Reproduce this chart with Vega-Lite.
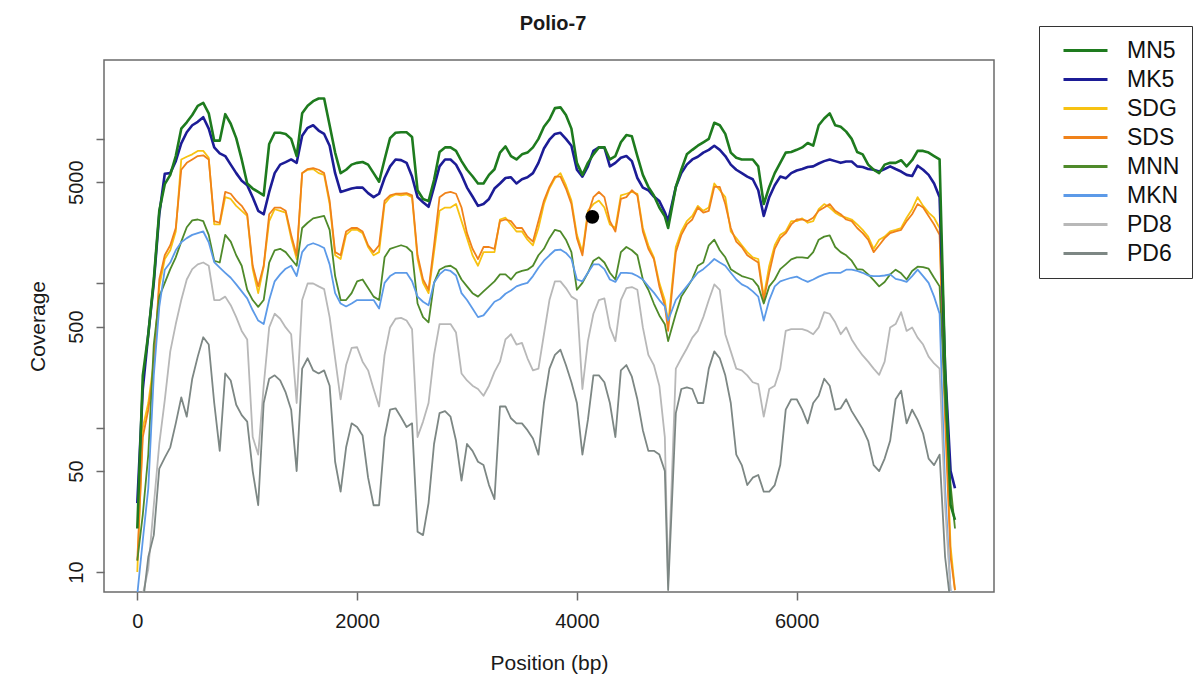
{
  "$schema": "https://vega.github.io/schema/vega-lite/v6.json",
  "width": 890,
  "height": 532,
  "autosize": {"type": "none"},
  "padding": {"left": 104, "top": 60, "right": 209, "bottom": 89},
  "background": "white",
  "config": {
    "font": "Liberation Sans",
    "view": {"stroke": "#6b6b6b", "strokeWidth": 1.5}
  },
  "title": {
    "text": "Polio-7",
    "font": "Liberation Sans",
    "fontSize": 20,
    "fontWeight": "bold",
    "color": "#1a1a1a",
    "anchor": "middle",
    "offset": -8,
    "dx": 4
  },
  "data": {
    "values": [
      {"pos": 0, "MN5": 20, "MK5": 30, "SDG": 10, "SDS": 12, "MNN": 12, "MKN": 7, "PD8": 6, "PD6": 5},
      {"pos": 50, "MN5": 230, "MK5": 185, "SDG": 100, "SDS": 86, "MNN": 25, "MKN": 16.6, "PD8": 7, "PD6": 6},
      {"pos": 100, "MN5": 443, "MK5": 443, "SDG": 148, "SDS": 133, "MNN": 65, "MKN": 38, "PD8": 10.5, "PD6": 12.7},
      {"pos": 150, "MN5": 1060, "MK5": 1005, "SDG": 286, "SDS": 256, "MNN": 376, "MKN": 230, "PD8": 29, "PD6": 18},
      {"pos": 200, "MN5": 3170, "MK5": 3000, "SDG": 950, "SDS": 1060, "MNN": 807, "MKN": 685, "PD8": 77, "PD6": 52},
      {"pos": 250, "MN5": 4850, "MK5": 5720, "SDG": 1470, "SDS": 1560, "MNN": 1005, "MKN": 1240, "PD8": 155, "PD6": 62},
      {"pos": 300, "MN5": 5620, "MK5": 5780, "SDG": 1690, "SDS": 1830, "MNN": 1250, "MKN": 1390, "PD8": 337, "PD6": 73},
      {"pos": 350, "MN5": 7590, "MK5": 7000, "SDG": 2280, "SDS": 2410, "MNN": 1510, "MKN": 1690, "PD8": 521, "PD6": 107},
      {"pos": 400, "MN5": 11750, "MK5": 9300, "SDG": 7190, "SDS": 6100, "MNN": 1940, "MKN": 1920, "PD8": 764, "PD6": 162},
      {"pos": 450, "MN5": 13000, "MK5": 11100, "SDG": 7500, "SDS": 6810, "MNN": 2440, "MKN": 2050, "PD8": 1060, "PD6": 119},
      {"pos": 500, "MN5": 14600, "MK5": 12400, "SDG": 7800, "SDS": 7190, "MNN": 2720, "MKN": 2160, "PD8": 1250, "PD6": 218},
      {"pos": 550, "MN5": 16900, "MK5": 13100, "SDG": 8240, "SDS": 7590, "MNN": 2760, "MKN": 2220, "PD8": 1350, "PD6": 310},
      {"pos": 600, "MN5": 17700, "MK5": 14100, "SDG": 8240, "SDS": 7680, "MNN": 2690, "MKN": 2280, "PD8": 1390, "PD6": 422},
      {"pos": 650, "MN5": 15000, "MK5": 11750, "SDG": 7390, "SDS": 7190, "MNN": 2160, "MKN": 1920, "PD8": 1320, "PD6": 376},
      {"pos": 700, "MN5": 9700, "MK5": 8710, "SDG": 2550, "SDS": 2690, "MNN": 1430, "MKN": 1400, "PD8": 764, "PD6": 148},
      {"pos": 750, "MN5": 9700, "MK5": 7930, "SDG": 2550, "SDS": 2620, "MNN": 1390, "MKN": 1280, "PD8": 764, "PD6": 69},
      {"pos": 800, "MN5": 14800, "MK5": 7590, "SDG": 3940, "SDS": 4280, "MNN": 2160, "MKN": 1180, "PD8": 807, "PD6": 237},
      {"pos": 850, "MN5": 12700, "MK5": 6620, "SDG": 3830, "SDS": 4160, "MNN": 1940, "MKN": 1090, "PD8": 704, "PD6": 212},
      {"pos": 900, "MN5": 10100, "MK5": 5780, "SDG": 3430, "SDS": 3730, "MNN": 1560, "MKN": 980, "PD8": 582, "PD6": 144},
      {"pos": 950, "MN5": 7190, "MK5": 5120, "SDG": 3170, "SDS": 3430, "MNN": 1320, "MKN": 877, "PD8": 467, "PD6": 122},
      {"pos": 1000, "MN5": 4900, "MK5": 4770, "SDG": 2920, "SDS": 3000, "MNN": 900, "MKN": 785, "PD8": 408, "PD6": 110},
      {"pos": 1050, "MN5": 4520, "MK5": 3940, "SDG": 1250, "SDS": 1320, "MNN": 764, "MKN": 649, "PD8": 86, "PD6": 50},
      {"pos": 1100, "MN5": 4280, "MK5": 3170, "SDG": 853, "SDS": 950, "MNN": 685, "MKN": 551, "PD8": 65, "PD6": 29},
      {"pos": 1150, "MN5": 4050, "MK5": 3000, "SDG": 1300, "SDS": 1320, "MNN": 764, "MKN": 521, "PD8": 195, "PD6": 148},
      {"pos": 1200, "MN5": 9200, "MK5": 4280, "SDG": 2690, "SDS": 3000, "MNN": 1390, "MKN": 764, "PD8": 494, "PD6": 218},
      {"pos": 1250, "MN5": 11000, "MK5": 5780, "SDG": 3250, "SDS": 3340, "MNN": 1690, "MKN": 1030, "PD8": 614, "PD6": 230},
      {"pos": 1300, "MN5": 11000, "MK5": 6620, "SDG": 3170, "SDS": 3340, "MNN": 1730, "MKN": 1150, "PD8": 567, "PD6": 212},
      {"pos": 1350, "MN5": 10800, "MK5": 6890, "SDG": 3080, "SDS": 3170, "MNN": 1640, "MKN": 1260, "PD8": 494, "PD6": 175},
      {"pos": 1400, "MN5": 9980, "MK5": 7190, "SDG": 2050, "SDS": 2160, "MNN": 1470, "MKN": 1320, "PD8": 443, "PD6": 133},
      {"pos": 1450, "MN5": 7590, "MK5": 6810, "SDG": 1470, "SDS": 1560, "MNN": 1320, "MKN": 1120, "PD8": 148, "PD6": 50},
      {"pos": 1500, "MN5": 15000, "MK5": 10500, "SDG": 5780, "SDS": 5780, "MNN": 2410, "MKN": 1640, "PD8": 764, "PD6": 256},
      {"pos": 1550, "MN5": 16900, "MK5": 11900, "SDG": 6100, "SDS": 6170, "MNN": 2620, "MKN": 1830, "PD8": 995, "PD6": 302},
      {"pos": 1600, "MN5": 18200, "MK5": 12400, "SDG": 6170, "SDS": 6270, "MNN": 2810, "MKN": 1890, "PD8": 995, "PD6": 249},
      {"pos": 1650, "MN5": 19000, "MK5": 11400, "SDG": 5780, "SDS": 6100, "MNN": 2870, "MKN": 1830, "PD8": 950, "PD6": 237},
      {"pos": 1700, "MN5": 19000, "MK5": 10800, "SDG": 5620, "SDS": 5780, "MNN": 2920, "MKN": 1750, "PD8": 910, "PD6": 249},
      {"pos": 1750, "MN5": 12400, "MK5": 8950, "SDG": 3530, "SDS": 3730, "MNN": 2340, "MKN": 1350, "PD8": 582, "PD6": 195},
      {"pos": 1800, "MN5": 8020, "MK5": 5780, "SDG": 1560, "SDS": 1640, "MNN": 1120, "MKN": 853, "PD8": 302, "PD6": 58},
      {"pos": 1850, "MN5": 5780, "MK5": 4280, "SDG": 1470, "SDS": 1560, "MNN": 764, "MKN": 723, "PD8": 157, "PD6": 36},
      {"pos": 1900, "MN5": 6100, "MK5": 4400, "SDG": 2160, "SDS": 2280, "MNN": 764, "MKN": 690, "PD8": 271, "PD6": 73},
      {"pos": 1950, "MN5": 6620, "MK5": 4520, "SDG": 2340, "SDS": 2410, "MNN": 853, "MKN": 723, "PD8": 356, "PD6": 107},
      {"pos": 2000, "MN5": 6810, "MK5": 4590, "SDG": 2340, "SDS": 2410, "MNN": 1030, "MKN": 764, "PD8": 360, "PD6": 101},
      {"pos": 2050, "MN5": 6900, "MK5": 4590, "SDG": 2220, "SDS": 2280, "MNN": 1060, "MKN": 764, "PD8": 286, "PD6": 88},
      {"pos": 2100, "MN5": 6620, "MK5": 4200, "SDG": 1780, "SDS": 1830, "MNN": 925, "MKN": 764, "PD8": 249, "PD6": 45},
      {"pos": 2150, "MN5": 5780, "MK5": 3940, "SDG": 1560, "SDS": 1640, "MNN": 807, "MKN": 764, "PD8": 185, "PD6": 29},
      {"pos": 2200, "MN5": 5040, "MK5": 4160, "SDG": 1640, "SDS": 1830, "MNN": 764, "MKN": 667, "PD8": 140, "PD6": 29},
      {"pos": 2250, "MN5": 7190, "MK5": 5350, "SDG": 3530, "SDS": 3730, "MNN": 1510, "MKN": 1005, "PD8": 319, "PD6": 86},
      {"pos": 2300, "MN5": 10100, "MK5": 6440, "SDG": 3940, "SDS": 4050, "MNN": 1730, "MKN": 1120, "PD8": 494, "PD6": 133},
      {"pos": 2350, "MN5": 11000, "MK5": 7190, "SDG": 4120, "SDS": 4160, "MNN": 1780, "MKN": 1180, "PD8": 567, "PD6": 136},
      {"pos": 2400, "MN5": 11100, "MK5": 7110, "SDG": 4050, "SDS": 4160, "MNN": 1830, "MKN": 1180, "PD8": 575, "PD6": 118},
      {"pos": 2450, "MN5": 11100, "MK5": 6810, "SDG": 4120, "SDS": 4200, "MNN": 1780, "MKN": 1180, "PD8": 551, "PD6": 101},
      {"pos": 2500, "MN5": 10300, "MK5": 5470, "SDG": 3940, "SDS": 4050, "MNN": 1640, "MKN": 1030, "PD8": 480, "PD6": 107},
      {"pos": 2550, "MN5": 4400, "MK5": 3940, "SDG": 1470, "SDS": 1560, "MNN": 723, "MKN": 807, "PD8": 86, "PD6": 19},
      {"pos": 2600, "MN5": 3830, "MK5": 3630, "SDG": 1005, "SDS": 1060, "MNN": 582, "MKN": 744, "PD8": 110, "PD6": 18},
      {"pos": 2650, "MN5": 3700, "MK5": 3380, "SDG": 853, "SDS": 900, "MNN": 536, "MKN": 704, "PD8": 148, "PD6": 30},
      {"pos": 2700, "MN5": 5180, "MK5": 4640, "SDG": 1640, "SDS": 1830, "MNN": 1005, "MKN": 1005, "PD8": 319, "PD6": 77},
      {"pos": 2750, "MN5": 8100, "MK5": 6440, "SDG": 3170, "SDS": 3940, "MNN": 1240, "MKN": 1150, "PD8": 521, "PD6": 126},
      {"pos": 2800, "MN5": 8710, "MK5": 7190, "SDG": 3340, "SDS": 4200, "MNN": 1300, "MKN": 1240, "PD8": 521, "PD6": 130},
      {"pos": 2850, "MN5": 8710, "MK5": 7190, "SDG": 3340, "SDS": 4280, "MNN": 1320, "MKN": 1215, "PD8": 521, "PD6": 119},
      {"pos": 2900, "MN5": 8240, "MK5": 6620, "SDG": 3530, "SDS": 4160, "MNN": 1250, "MKN": 1130, "PD8": 455, "PD6": 81},
      {"pos": 2950, "MN5": 7000, "MK5": 5620, "SDG": 2690, "SDS": 3340, "MNN": 1060, "MKN": 853, "PD8": 237, "PD6": 43},
      {"pos": 3000, "MN5": 6100, "MK5": 4590, "SDG": 2050, "SDS": 2220, "MNN": 950, "MKN": 764, "PD8": 212, "PD6": 77},
      {"pos": 3050, "MN5": 5500, "MK5": 3980, "SDG": 1560, "SDS": 1730, "MNN": 853, "MKN": 667, "PD8": 195, "PD6": 69},
      {"pos": 3100, "MN5": 4900, "MK5": 3430, "SDG": 1320, "SDS": 1470, "MNN": 807, "MKN": 582, "PD8": 185, "PD6": 58},
      {"pos": 3150, "MN5": 4900, "MK5": 3530, "SDG": 1640, "SDS": 1780, "MNN": 877, "MKN": 598, "PD8": 166, "PD6": 55},
      {"pos": 3200, "MN5": 5620, "MK5": 3830, "SDG": 1640, "SDS": 1780, "MNN": 950, "MKN": 667, "PD8": 195, "PD6": 40},
      {"pos": 3250, "MN5": 6150, "MK5": 4520, "SDG": 1640, "SDS": 1730, "MNN": 1030, "MKN": 744, "PD8": 243, "PD6": 32},
      {"pos": 3300, "MN5": 8020, "MK5": 4900, "SDG": 2760, "SDS": 2690, "MNN": 1150, "MKN": 777, "PD8": 286, "PD6": 140},
      {"pos": 3350, "MN5": 8850, "MK5": 5350, "SDG": 2840, "SDS": 2760, "MNN": 1150, "MKN": 845, "PD8": 408, "PD6": 140},
      {"pos": 3400, "MN5": 7590, "MK5": 5410, "SDG": 2550, "SDS": 2690, "MNN": 1060, "MKN": 890, "PD8": 443, "PD6": 116},
      {"pos": 3450, "MN5": 7190, "MK5": 4900, "SDG": 2280, "SDS": 2410, "MNN": 1180, "MKN": 950, "PD8": 376, "PD6": 107},
      {"pos": 3500, "MN5": 7800, "MK5": 5240, "SDG": 2280, "SDS": 2410, "MNN": 1215, "MKN": 980, "PD8": 386, "PD6": 107},
      {"pos": 3550, "MN5": 8020, "MK5": 5410, "SDG": 2000, "SDS": 2100, "MNN": 1240, "MKN": 1005, "PD8": 302, "PD6": 96},
      {"pos": 3600, "MN5": 8710, "MK5": 5780, "SDG": 1830, "SDS": 1940, "MNN": 1320, "MKN": 1120, "PD8": 249, "PD6": 84},
      {"pos": 3650, "MN5": 9980, "MK5": 6810, "SDG": 2410, "SDS": 2690, "MNN": 1560, "MKN": 1280, "PD8": 256, "PD6": 65},
      {"pos": 3700, "MN5": 12100, "MK5": 8560, "SDG": 3530, "SDS": 3730, "MNN": 1730, "MKN": 1430, "PD8": 443, "PD6": 148},
      {"pos": 3750, "MN5": 13600, "MK5": 9850, "SDG": 4520, "SDS": 4640, "MNN": 2050, "MKN": 1560, "PD8": 764, "PD6": 256},
      {"pos": 3800, "MN5": 16300, "MK5": 10800, "SDG": 5320, "SDS": 5470, "MNN": 2340, "MKN": 1690, "PD8": 1030, "PD6": 319},
      {"pos": 3850, "MN5": 16500, "MK5": 11000, "SDG": 5780, "SDS": 5470, "MNN": 2280, "MKN": 1710, "PD8": 1030, "PD6": 346},
      {"pos": 3900, "MN5": 14600, "MK5": 9980, "SDG": 4770, "SDS": 4520, "MNN": 2000, "MKN": 1620, "PD8": 925, "PD6": 271},
      {"pos": 3950, "MN5": 11750, "MK5": 8950, "SDG": 3730, "SDS": 3530, "MNN": 1640, "MKN": 1470, "PD8": 807, "PD6": 206},
      {"pos": 4000, "MN5": 6810, "MK5": 6100, "SDG": 2160, "SDS": 2050, "MNN": 900, "MKN": 1060, "PD8": 764, "PD6": 148},
      {"pos": 4050, "MN5": 5620, "MK5": 5470, "SDG": 1640, "SDS": 1560, "MNN": 1005, "MKN": 1030, "PD8": 185, "PD6": 65},
      {"pos": 4100, "MN5": 6810, "MK5": 6440, "SDG": 3170, "SDS": 3000, "MNN": 1180, "MKN": 1180, "PD8": 397, "PD6": 113},
      {"pos": 4150, "MN5": 7800, "MK5": 8240, "SDG": 3530, "SDS": 3940, "MNN": 1430, "MKN": 1350, "PD8": 614, "PD6": 230},
      {"pos": 4200, "MN5": 8710, "MK5": 8710, "SDG": 3730, "SDS": 4280, "MNN": 1510, "MKN": 1350, "PD8": 764, "PD6": 230},
      {"pos": 4250, "MN5": 8710, "MK5": 8710, "SDG": 3340, "SDS": 3940, "MNN": 1390, "MKN": 1250, "PD8": 785, "PD6": 206},
      {"pos": 4300, "MN5": 7190, "MK5": 6440, "SDG": 2550, "SDS": 2690, "MNN": 1180, "MKN": 1060, "PD8": 494, "PD6": 148},
      {"pos": 4350, "MN5": 7590, "MK5": 6810, "SDG": 2410, "SDS": 2280, "MNN": 1060, "MKN": 1020, "PD8": 397, "PD6": 86},
      {"pos": 4400, "MN5": 9450, "MK5": 7390, "SDG": 4050, "SDS": 3830, "MNN": 1640, "MKN": 1180, "PD8": 764, "PD6": 249},
      {"pos": 4450, "MN5": 10600, "MK5": 7590, "SDG": 4160, "SDS": 3940, "MNN": 1780, "MKN": 1180, "PD8": 925, "PD6": 271},
      {"pos": 4500, "MN5": 10400, "MK5": 7000, "SDG": 4280, "SDS": 4400, "MNN": 1690, "MKN": 1170, "PD8": 940, "PD6": 225},
      {"pos": 4550, "MN5": 7590, "MK5": 5350, "SDG": 4160, "SDS": 4050, "MNN": 1560, "MKN": 1120, "PD8": 900, "PD6": 157},
      {"pos": 4600, "MN5": 5620, "MK5": 4590, "SDG": 2410, "SDS": 2280, "MNN": 1060, "MKN": 1060, "PD8": 494, "PD6": 96},
      {"pos": 4650, "MN5": 4640, "MK5": 4400, "SDG": 1830, "SDS": 1730, "MNN": 900, "MKN": 950, "PD8": 319, "PD6": 69},
      {"pos": 4700, "MN5": 4050, "MK5": 3980, "SDG": 1510, "SDS": 1470, "MNN": 723, "MKN": 860, "PD8": 271, "PD6": 69},
      {"pos": 4750, "MN5": 3340, "MK5": 3700, "SDG": 1005, "SDS": 950, "MNN": 598, "MKN": 764, "PD8": 195, "PD6": 65},
      {"pos": 4800, "MN5": 2900, "MK5": 3100, "SDG": 760, "SDS": 700, "MNN": 520, "MKN": 690, "PD8": 86, "PD6": 50},
      {"pos": 4830, "MN5": 2410, "MK5": 2690, "SDG": 521, "SDS": 467, "MNN": 397, "MKN": 551, "PD8": 8.6, "PD6": 7.5},
      {"pos": 4900, "MN5": 4640, "MK5": 4640, "SDG": 1780, "SDS": 1640, "MNN": 614, "MKN": 764, "PD8": 256, "PD6": 126},
      {"pos": 4950, "MN5": 6100, "MK5": 5780, "SDG": 2280, "SDS": 2160, "MNN": 807, "MKN": 853, "PD8": 302, "PD6": 185},
      {"pos": 5000, "MN5": 7800, "MK5": 6620, "SDG": 2690, "SDS": 2550, "MNN": 925, "MKN": 950, "PD8": 353, "PD6": 190},
      {"pos": 5050, "MN5": 8380, "MK5": 7190, "SDG": 2920, "SDS": 2760, "MNN": 1070, "MKN": 1060, "PD8": 420, "PD6": 185},
      {"pos": 5100, "MN5": 8950, "MK5": 7510, "SDG": 3430, "SDS": 3340, "MNN": 1320, "MKN": 1180, "PD8": 467, "PD6": 148},
      {"pos": 5150, "MN5": 9450, "MK5": 8020, "SDG": 3170, "SDS": 3080, "MNN": 1390, "MKN": 1250, "PD8": 582, "PD6": 148},
      {"pos": 5200, "MN5": 9980, "MK5": 8380, "SDG": 3340, "SDS": 3170, "MNN": 1830, "MKN": 1350, "PD8": 764, "PD6": 256},
      {"pos": 5250, "MN5": 12900, "MK5": 8950, "SDG": 4900, "SDS": 4640, "MNN": 2000, "MKN": 1470, "PD8": 980, "PD6": 337},
      {"pos": 5300, "MN5": 12400, "MK5": 8380, "SDG": 4400, "SDS": 4640, "MNN": 1690, "MKN": 1390, "PD8": 900, "PD6": 302},
      {"pos": 5350, "MN5": 10800, "MK5": 7590, "SDG": 3940, "SDS": 3530, "MNN": 1510, "MKN": 1320, "PD8": 443, "PD6": 230},
      {"pos": 5400, "MN5": 8020, "MK5": 6620, "SDG": 2280, "SDS": 2410, "MNN": 1250, "MKN": 1180, "PD8": 337, "PD6": 148},
      {"pos": 5450, "MN5": 7390, "MK5": 6100, "SDG": 2050, "SDS": 1940, "MNN": 1180, "MKN": 1060, "PD8": 256, "PD6": 65},
      {"pos": 5500, "MN5": 7190, "MK5": 5780, "SDG": 1830, "SDS": 1780, "MNN": 1120, "MKN": 980, "PD8": 249, "PD6": 55},
      {"pos": 5550, "MN5": 7190, "MK5": 5470, "SDG": 1640, "SDS": 1560, "MNN": 1090, "MKN": 940, "PD8": 230, "PD6": 40},
      {"pos": 5600, "MN5": 7190, "MK5": 5240, "SDG": 1510, "SDS": 1470, "MNN": 1060, "MKN": 877, "PD8": 206, "PD6": 45},
      {"pos": 5650, "MN5": 6440, "MK5": 4400, "SDG": 1470, "SDS": 1390, "MNN": 950, "MKN": 807, "PD8": 200, "PD6": 47},
      {"pos": 5700, "MN5": 3530, "MK5": 2920, "SDG": 807, "SDS": 764, "MNN": 723, "MKN": 551, "PD8": 119, "PD6": 36},
      {"pos": 5750, "MN5": 4640, "MK5": 3940, "SDG": 1320, "SDS": 1180, "MNN": 950, "MKN": 764, "PD8": 185, "PD6": 36},
      {"pos": 5800, "MN5": 5780, "MK5": 4770, "SDG": 1830, "SDS": 1730, "MNN": 1060, "MKN": 950, "PD8": 195, "PD6": 40},
      {"pos": 5850, "MN5": 6810, "MK5": 5470, "SDG": 2160, "SDS": 2050, "MNN": 1250, "MKN": 1030, "PD8": 256, "PD6": 55},
      {"pos": 5900, "MN5": 8020, "MK5": 5320, "SDG": 2280, "SDS": 2220, "MNN": 1350, "MKN": 1060, "PD8": 467, "PD6": 133},
      {"pos": 5950, "MN5": 8100, "MK5": 5780, "SDG": 2690, "SDS": 2550, "MNN": 1460, "MKN": 1090, "PD8": 480, "PD6": 157},
      {"pos": 6000, "MN5": 8380, "MK5": 6030, "SDG": 2690, "SDS": 2760, "MNN": 1510, "MKN": 1110, "PD8": 480, "PD6": 157},
      {"pos": 6050, "MN5": 8710, "MK5": 6170, "SDG": 2810, "SDS": 2760, "MNN": 1510, "MKN": 1060, "PD8": 480, "PD6": 133},
      {"pos": 6100, "MN5": 9350, "MK5": 6370, "SDG": 2620, "SDS": 2690, "MNN": 1490, "MKN": 1020, "PD8": 467, "PD6": 107},
      {"pos": 6150, "MN5": 8950, "MK5": 6440, "SDG": 2690, "SDS": 2840, "MNN": 1640, "MKN": 1060, "PD8": 443, "PD6": 148},
      {"pos": 6200, "MN5": 12400, "MK5": 6740, "SDG": 3250, "SDS": 3170, "MNN": 2000, "MKN": 1110, "PD8": 494, "PD6": 166},
      {"pos": 6250, "MN5": 13800, "MK5": 7000, "SDG": 3530, "SDS": 3340, "MNN": 2100, "MKN": 1150, "PD8": 630, "PD6": 218},
      {"pos": 6300, "MN5": 15000, "MK5": 7190, "SDG": 3340, "SDS": 3530, "MNN": 2140, "MKN": 1180, "PD8": 614, "PD6": 195},
      {"pos": 6350, "MN5": 12400, "MK5": 7000, "SDG": 3080, "SDS": 3170, "MNN": 1780, "MKN": 1180, "PD8": 536, "PD6": 133},
      {"pos": 6400, "MN5": 12100, "MK5": 6810, "SDG": 2920, "SDS": 3000, "MNN": 1640, "MKN": 1180, "PD8": 443, "PD6": 136},
      {"pos": 6450, "MN5": 11200, "MK5": 6960, "SDG": 2840, "SDS": 2760, "MNN": 1560, "MKN": 1240, "PD8": 494, "PD6": 157},
      {"pos": 6500, "MN5": 9980, "MK5": 6960, "SDG": 2760, "SDS": 2690, "MNN": 1430, "MKN": 1240, "PD8": 408, "PD6": 130},
      {"pos": 6550, "MN5": 8100, "MK5": 6440, "SDG": 2550, "SDS": 2410, "MNN": 1250, "MKN": 1215, "PD8": 356, "PD6": 113},
      {"pos": 6600, "MN5": 7800, "MK5": 6370, "SDG": 2340, "SDS": 2220, "MNN": 1240, "MKN": 1180, "PD8": 316, "PD6": 98},
      {"pos": 6650, "MN5": 6620, "MK5": 6170, "SDG": 2100, "SDS": 2000, "MNN": 1150, "MKN": 1130, "PD8": 286, "PD6": 81},
      {"pos": 6700, "MN5": 6100, "MK5": 6100, "SDG": 1730, "SDS": 1640, "MNN": 1050, "MKN": 1120, "PD8": 256, "PD6": 55},
      {"pos": 6750, "MN5": 5780, "MK5": 5930, "SDG": 2000, "SDS": 1830, "MNN": 950, "MKN": 1120, "PD8": 232, "PD6": 50},
      {"pos": 6800, "MN5": 6620, "MK5": 6170, "SDG": 2100, "SDS": 2050, "MNN": 1020, "MKN": 1130, "PD8": 286, "PD6": 61},
      {"pos": 6850, "MN5": 6810, "MK5": 6440, "SDG": 2280, "SDS": 2220, "MNN": 1150, "MKN": 1150, "PD8": 494, "PD6": 81},
      {"pos": 6900, "MN5": 6810, "MK5": 6170, "SDG": 2340, "SDS": 2280, "MNN": 1240, "MKN": 1070, "PD8": 521, "PD6": 157},
      {"pos": 6950, "MN5": 7100, "MK5": 5930, "SDG": 2410, "SDS": 2340, "MNN": 1170, "MKN": 1050, "PD8": 630, "PD6": 180},
      {"pos": 7000, "MN5": 6440, "MK5": 5620, "SDG": 2840, "SDS": 2690, "MNN": 1060, "MKN": 1020, "PD8": 467, "PD6": 107},
      {"pos": 7050, "MN5": 7100, "MK5": 5520, "SDG": 3250, "SDS": 3000, "MNN": 1215, "MKN": 1120, "PD8": 494, "PD6": 133},
      {"pos": 7100, "MN5": 8240, "MK5": 6510, "SDG": 3940, "SDS": 3530, "MNN": 1300, "MKN": 1240, "PD8": 420, "PD6": 113},
      {"pos": 7150, "MN5": 8240, "MK5": 6100, "SDG": 3430, "SDS": 3340, "MNN": 1290, "MKN": 1120, "PD8": 376, "PD6": 91},
      {"pos": 7200, "MN5": 8020, "MK5": 5620, "SDG": 3080, "SDS": 2920, "MNN": 1260, "MKN": 1005, "PD8": 310, "PD6": 61},
      {"pos": 7250, "MN5": 7590, "MK5": 4900, "SDG": 2840, "SDS": 2550, "MNN": 1090, "MKN": 807, "PD8": 278, "PD6": 55},
      {"pos": 7300, "MN5": 7190, "MK5": 3940, "SDG": 2410, "SDS": 2160, "MNN": 950, "MKN": 614, "PD8": 256, "PD6": 65},
      {"pos": 7350, "MN5": 256, "MK5": 256, "SDG": 148, "SDS": 113, "MNN": 148, "MKN": 38, "PD8": 29, "PD6": 12.7},
      {"pos": 7400, "MN5": 29, "MK5": 50, "SDG": 15, "SDS": 12.7, "MNN": 40, "MKN": 7.3, "PD8": 7.3, "PD6": 6},
      {"pos": 7440, "MN5": 23, "MK5": 38, "SDG": 7.5, "SDS": 7.5, "MNN": 20, "MKN": 7, "PD8": 6, "PD6": 5}
    ]
  },
  "layer": [
    {
      "transform": [
        {"fold": ["SDG", "SDS", "MNN", "MKN", "PD8", "PD6"], "as": ["sample", "coverage"]}
      ],
      "mark": {"type": "line", "strokeWidth": 1.8, "clip": true, "strokeJoin": "round"},
      "encoding": {
        "x": {
          "field": "pos",
          "type": "quantitative",
          "scale": {"domain": [-303, 7795], "nice": false, "zero": false},
          "axis": {
            "values": [0, 2000, 4000, 6000],
            "format": "d",
            "title": "Position (bp)",
            "grid": false,
            "domain": false,
            "tickSize": 8,
            "tickWidth": 1.5,
            "tickColor": "#6b6b6b",
            "labelFont": "Liberation Sans",
            "labelFontSize": 20,
            "labelColor": "#1a1a1a",
            "labelPadding": 11,
            "labelFlush": false,
            "titleFont": "Liberation Sans",
            "titleFontSize": 21,
            "titleFontWeight": "normal",
            "titleColor": "#1a1a1a",
            "titleBaseline": "alphabetic",
            "titleY": 77
          }
        },
        "y": {
          "field": "coverage",
          "type": "quantitative",
          "scale": {"type": "log", "domain": [7.27, 35100], "nice": false},
          "axis": {
            "values": [10, 50, 100, 500, 1000, 5000, 10000],
            "labelExpr": "indexof([10, 50, 500, 5000], datum.value) >= 0 ? datum.value + '' : ''",
            "title": "Coverage",
            "grid": false,
            "domain": false,
            "tickSize": 8,
            "tickWidth": 1.5,
            "tickColor": "#6b6b6b",
            "labelFont": "Liberation Sans",
            "labelFontSize": 20,
            "labelColor": "#1a1a1a",
            "labelAngle": 270,
            "labelAlign": "center",
            "labelBaseline": "alphabetic",
            "labelPadding": 14,
            "labelOverlap": false,
            "labelFlush": false,
            "titleFont": "Liberation Sans",
            "titleFontSize": 21,
            "titleFontWeight": "normal",
            "titleColor": "#1a1a1a",
            "titleAngle": 270,
            "titleAlign": "center",
            "titleBaseline": "alphabetic",
            "titleX": -60,
            "titleY": 266
          }
        },
        "color": {
          "field": "sample",
          "type": "nominal",
          "scale": {
            "domain": ["MN5", "MK5", "SDG", "SDS", "MNN", "MKN", "PD8", "PD6"],
            "range": ["#1e7b1e", "#1c1c96", "#f7c212", "#f0821a", "#4f8a2a", "#5c9ae8", "#b8b8b8", "#7d8784"]
          },
          "legend": {
            "orient": "none",
            "legendX": 935,
            "legendY": -34,
            "title": null,
            "direction": "vertical",
            "symbolType": "M0,0H4",
            "symbolSize": 484,
            "symbolStrokeWidth": 3,
            "symbolFillColor": "transparent",
            "labelFont": "Liberation Sans",
            "labelFontSize": 23,
            "labelColor": "#111111",
            "labelOffset": 51,
            "strokeColor": "#333333",
            "fillColor": "white",
            "padding": 12,
            "rowPadding": 4
          }
        }
      }
    },
    {
      "transform": [
        {"fold": ["MK5", "MN5"], "as": ["sample", "coverage"]}
      ],
      "mark": {"type": "line", "strokeWidth": 2.6, "clip": true, "strokeJoin": "round"},
      "encoding": {
        "x": {"field": "pos", "type": "quantitative"},
        "y": {"field": "coverage", "type": "quantitative"},
        "color": {"field": "sample", "type": "nominal"}
      }
    },
    {
      "data": {"values": [{"pos": 4140, "coverage": 2880}]},
      "mark": {"type": "point", "filled": true, "color": "black", "opacity": 1, "size": 190},
      "encoding": {
        "x": {"field": "pos", "type": "quantitative"},
        "y": {"field": "coverage", "type": "quantitative"}
      }
    }
  ]
}
